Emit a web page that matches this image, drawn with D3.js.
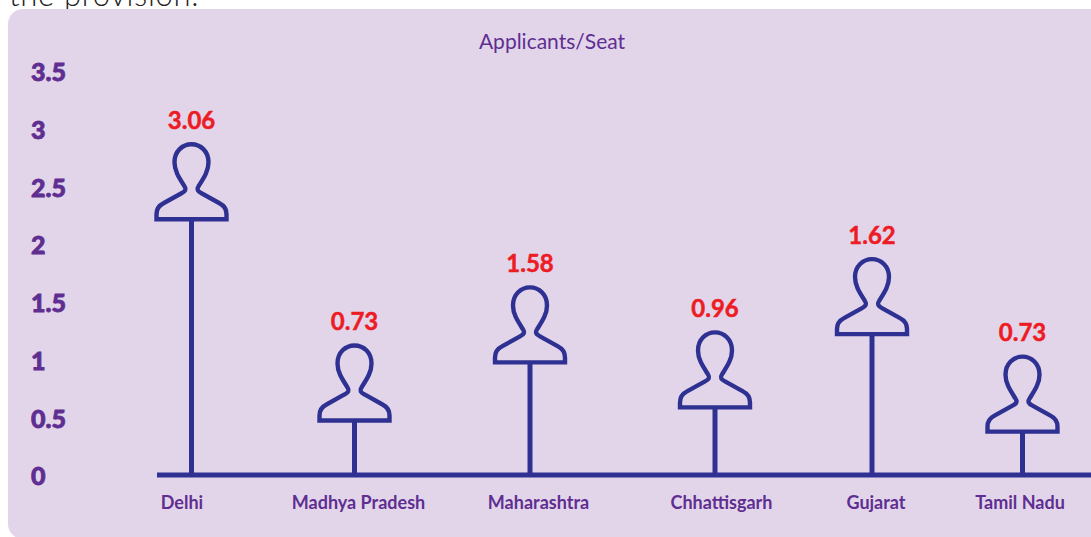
<!DOCTYPE html>
<html><head><meta charset="utf-8">
<script src="https://cdn.jsdelivr.net/npm/d3@7"></script>
<style>html,body{margin:0;padding:0;background:#fff;overflow:hidden}svg{display:block}text{font-family:Lato,sans-serif}</style>
</head><body><div id="c"></div>
<script>
const categories = ["Delhi","Madhya Pradesh","Maharashtra","Chhattisgarh","Gujarat","Tamil Nadu"];
const values = [3.06,0.73,1.58,0.96,1.62,0.73];
const valueLabels = ["3.06","0.73","1.58","0.96","1.62","0.73"];
// height of each icon's base as drawn, read against the axis
const iconBase = [2.22,0.477,0.98,0.59,1.225,0.38];
const yTicks = [0,0.5,1,1.5,2,2.5,3,3.5];
const yTickLabels = ["0","0.5","1","1.5","2","2.5","3","3.5"];
const title = "Applicants/Seat";
const clippedCaption = "the provision.";

const W=1091,H=537, NAVY="#2e3192", PURPLE="#5f2e91", RED="#ed1c24", PANEL="#e2d5ea";
const svg=d3.select("#c").append("svg").attr("width",W).attr("height",H);
svg.append("text").attr("x",9).attr("y",6).attr("font-size",31).attr("font-weight",300).attr("fill","#222").attr("letter-spacing",0.7).text(clippedCaption);
svg.append("rect").attr("x",8).attr("y",9).attr("width",W+30).attr("height",530).attr("rx",15).attr("fill",PANEL);

const y=d3.scaleLinear().domain([0,3.5]).range([475,71]);
const x=d3.scaleOrdinal(categories,[191.5,354.5,530,715,872,1022.5]);
const xLabel=d3.scaleOrdinal(categories,[182,358.5,538.5,721.5,876,1020]);

const axisY=d3.axisLeft(y).tickValues(yTicks).tickFormat((d,i)=>yTickLabels[i]).tickSize(0);
const gy=svg.append("g").attr("transform","translate(68,1)").call(axisY);
gy.select(".domain").remove();
gy.selectAll("text").attr("dy","0.35em").attr("text-anchor","start").attr("font-family","Lato").attr("font-size",25).attr("font-weight",900).attr("fill",PURPLE)
  .attr("stroke",PURPLE).attr("stroke-width",0.8).attr("x",-37);

svg.append("line").attr("x1",157).attr("x2",W).attr("y1",y(0)).attr("y2",y(0)).attr("stroke",NAVY).attr("stroke-width",5);

const icon="M-35,0 L35,0 L35,-5 C35,-11 32,-14 28,-16 L10,-26 C6,-28 5,-30 7,-33 C12,-41 17,-48 17,-57 C17,-68 9,-75 0,-75 C-9,-75 -17,-68 -17,-57 C-17,-48 -12,-41 -7,-33 C-5,-30 -6,-28 -10,-26 L-28,-16 C-32,-14 -35,-11 -35,-5 Z";
const g=svg.selectAll("g.m").data(categories).join("g").attr("class","m");
g.append("line").attr("x1",d=>x(d)).attr("x2",d=>x(d)).attr("y1",y(0)).attr("y2",(d,i)=>y(iconBase[i]))
  .attr("stroke",NAVY).attr("stroke-width",5);
g.append("path").attr("d",icon).attr("transform",(d,i)=>`translate(${x(d)},${y(iconBase[i])+0.5})`)
  .attr("fill",PANEL).attr("stroke",NAVY).attr("stroke-width",4.4).attr("stroke-linejoin","miter");
g.append("text").attr("x",d=>x(d)).attr("y",(d,i)=>y(iconBase[i])-90).attr("text-anchor","middle")
  .attr("font-size",24).attr("font-weight",700).attr("fill",RED).attr("stroke",RED).attr("stroke-width",0.5).text((d,i)=>valueLabels[i]);
g.append("text").attr("x",d=>xLabel(d)).attr("y",509).attr("text-anchor","middle")
  .attr("font-size",18).attr("font-weight",700).attr("fill",PURPLE).text(d=>d);

svg.append("text").attr("x",552).attr("y",49).attr("text-anchor","middle").attr("font-size",21).attr("fill",PURPLE).text(title);
</script></body></html>
